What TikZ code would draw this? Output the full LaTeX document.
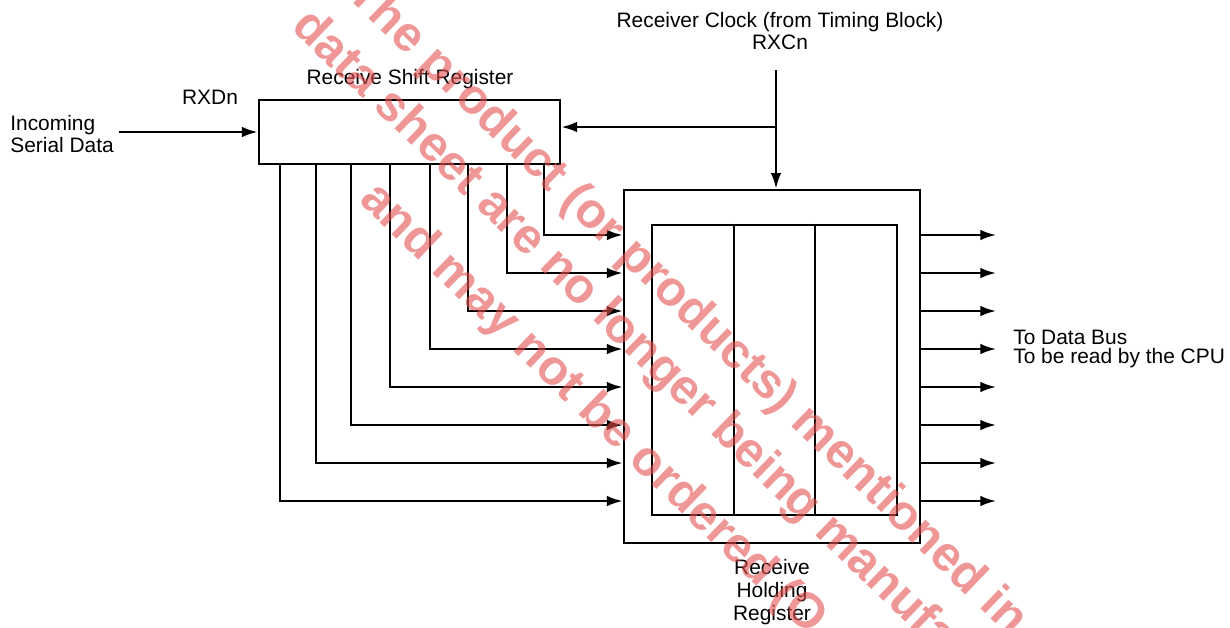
\documentclass[tikz,border=0pt]{standalone}
\usepackage{fontspec}
\setmainfont{Liberation Sans}
\usetikzlibrary{arrows.meta, positioning, calc}
\definecolor{wmred}{RGB}{228,80,80}

\begin{document}
\begin{tikzpicture}[
  x=0.02cm, y=-0.02cm,
  every node/.style={font=\fontsize{11.9}{10.3}\selectfont, inner sep=0pt},
  regbox/.style={rectangle, draw, line width=1.4pt},
  wire/.style={line width=1.4pt},
  sig/.style={line width=1.4pt, -{Latex[length=9pt,width=6pt]}},
  wmtext/.style={text=wmred, text opacity=0.6, font=\fontsize{28}{28}\selectfont\bfseries, rotate=-44, anchor=base west},
]
\useasboundingbox (0,0) rectangle (1230,627);

% Receive shift register
\node[regbox, minimum width=6.02cm, minimum height=1.28cm] (rsr) at (409.5,132) {};
\node (rsrlbl) at (410,79) {Receive Shift Register};
\node (rxd) at (210,97) {RXDn};
\node[align=left, anchor=west] (inc) at (10,134) {Incoming\\Serial Data};

% Receive holding register
\node[regbox, minimum width=5.92cm, minimum height=7.06cm] (rhr) at (772,366.5) {};
\node[regbox, minimum width=4.9cm, minimum height=5.8cm] (cells) at (774.5,370) {};
\foreach \x in {734,815}
  \draw[wire] (cells.north -| \x,0) -- (cells.south -| \x,0);
\node[align=center, font=\fontsize{11.9}{13.3}\selectfont] (rhrlbl) at (772,592) {Receive\\Holding\\Register};

% Clock
\node[align=center, font=\fontsize{11.9}{13}\selectfont] (clklbl) at (780,31) {Receiver Clock (from Timing Block)\\RXCn};
\coordinate (clk) at (776,70);
\coordinate (tap) at (776,127);
\draw[sig] (clk) -- (clk |- rhr.north);
\draw[sig] (tap) -- (rsr.east |- tap);

% Serial input
\draw[sig] ([xshift=3pt]inc.east |- rsr.west) -- (rsr.west);

% Parallel transfer
\foreach \x/\y in {280/501,316/463,351/425,390/387,430/349,468/311,507/273,544/235}
  \draw[sig] (rsr.south -| \x,0) |- (rhr.west |- 0,\y);

% Data bus outputs
\foreach \y in {235,273,311,349,387,425,463,501}
  \draw[sig] (rhr.east |- 0,\y) -- ++(75,0);
\node[align=left, anchor=west] (bus) at (1013,349) {To Data Bus\\To be read by the CPU};

% Watermark
\begin{scope}
  \clip (0,0) rectangle (1230,627);
  \node[wmtext] (wm1) at (345,-5) {The product (or products) mentioned in};
  \node[wmtext] (wm2) at (290,28) {data sheet are no longer being manufactured};
  \node[wmtext] (wm3) at (358,201) {and may not be ordered (O};
\end{scope}
\end{tikzpicture}
\end{document}
